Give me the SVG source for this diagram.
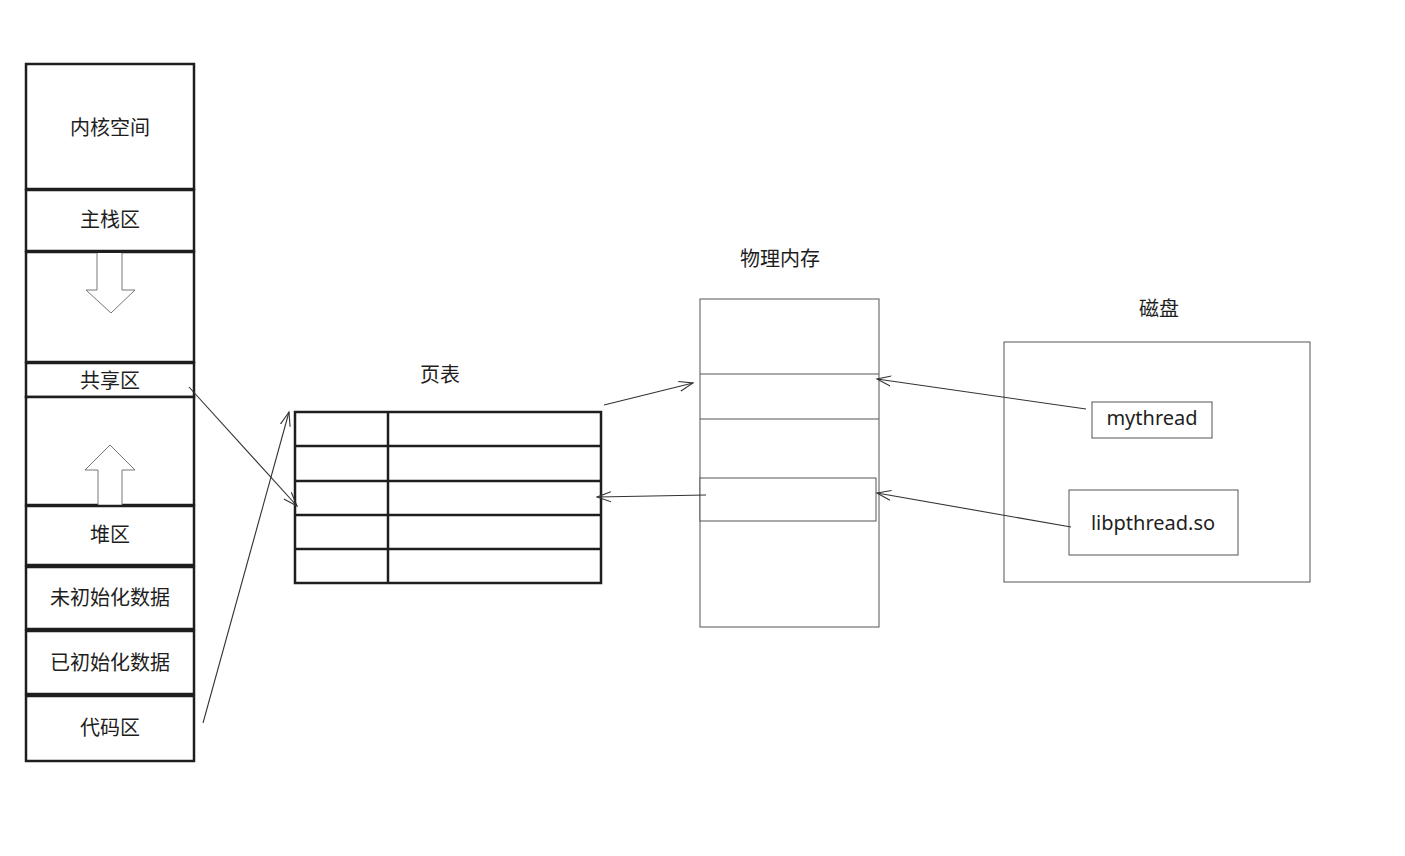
<svg xmlns="http://www.w3.org/2000/svg" width="1405" height="856" viewBox="0 0 1405 856">
<defs>
<style>
.thick{fill:#fff;stroke:#1e1e1e;stroke-width:2.5}
.thin{fill:#fff;stroke:#555;stroke-width:1}
.hollow{fill:#fff;stroke:#777;stroke-width:1}
.lbl{font-family:"Noto Sans CJK SC","Noto Sans",sans-serif;font-size:20px;fill:#1e1e1e;text-anchor:middle;dominant-baseline:central}
.hand{font-family:"Noto Sans","Liberation Sans",sans-serif;font-size:20px;fill:#1e1e1e;text-anchor:middle;dominant-baseline:central}
.conn{fill:none;stroke:#333;stroke-width:1.1}
</style>
<marker id="ah" markerWidth="20" markerHeight="20" refX="14" refY="7" orient="auto" markerUnits="userSpaceOnUse">
<path d="M0,2 L14,7 L0,12" fill="none" stroke="#333" stroke-width="1.1"/>
</marker>
</defs>
<rect width="1405" height="856" fill="#fff"/>

<g id="kernel"><rect class="thick" x="26" y="64" width="168" height="125"/><text class="lbl" x="110" y="126">内核空间</text></g>
<g id="main-stack"><rect class="thick" x="26" y="190" width="168" height="61"/><text class="lbl" x="110" y="218">主栈区</text></g>
<g id="stack-gap"><rect class="thick" x="26" y="252" width="168" height="110"/>
<path class="hollow" d="M97,253 L97,290 L86,290 L111,313 L135,290 L122,290 L122,253"/></g>
<g id="shared"><rect class="thick" x="26" y="363" width="168" height="34"/><text class="lbl" x="110" y="379">共享区</text></g>
<g id="heap-gap"><rect class="thick" x="26" y="397" width="168" height="108"/>
<path class="hollow" d="M98,505 L98,470 L85,470 L110,445 L135,470 L122,470 L122,505"/></g>
<g id="heap"><rect class="thick" x="26" y="506" width="168" height="59"/><text class="lbl" x="110" y="533">堆区</text></g>
<g id="bss"><rect class="thick" x="26" y="567" width="168" height="62"/><text class="lbl" x="110" y="596">未初始化数据</text></g>
<g id="data"><rect class="thick" x="26" y="631" width="168" height="63"/><text class="lbl" x="110" y="661">已初始化数据</text></g>
<g id="text"><rect class="thick" x="26" y="696" width="168" height="65"/><text class="lbl" x="110" y="726">代码区</text></g>

<g id="page-table">
<text class="lbl" x="440" y="373">页表</text>
<rect class="thick" x="295" y="412" width="306" height="171"/>
<path class="thick" fill="none" d="M295,446 H601 M295,481 H601 M295,515 H601 M295,549 H601 M388,412 V583"/>
</g>

<g id="physical-memory">
<text class="lbl" x="780" y="257">物理内存</text>
<rect class="thin" x="700" y="299" width="179" height="328"/>
<path class="thin" fill="none" d="M700,374 H879 M700,419 H879"/>
<rect class="thin" x="700" y="478" width="176" height="43"/>
</g>

<g id="disk">
<text class="lbl" x="1159" y="307">磁盘</text>
<rect class="thin" x="1004" y="342" width="306" height="240"/>
</g>
<g id="mythread"><rect class="thin" x="1092" y="402" width="120" height="36"/><text class="hand" x="1152" y="417">mythread</text></g>
<g id="libpthread"><rect class="thin" x="1069" y="490" width="169" height="65"/><text class="hand" x="1153" y="522">libpthread.so</text></g>

<g id="connectors">
<path class="conn" marker-end="url(#ah)" d="M189,387 L297,506"/>
<path class="conn" marker-end="url(#ah)" d="M203,723 L289,412"/>
<path class="conn" marker-end="url(#ah)" d="M604,405 L693,383"/>
<path class="conn" marker-end="url(#ah)" d="M706,495 L597,497"/>
<path class="conn" marker-end="url(#ah)" d="M1086,409 L877,379"/>
<path class="conn" marker-end="url(#ah)" d="M1071,527 L877,493"/>
</g>
</svg>
